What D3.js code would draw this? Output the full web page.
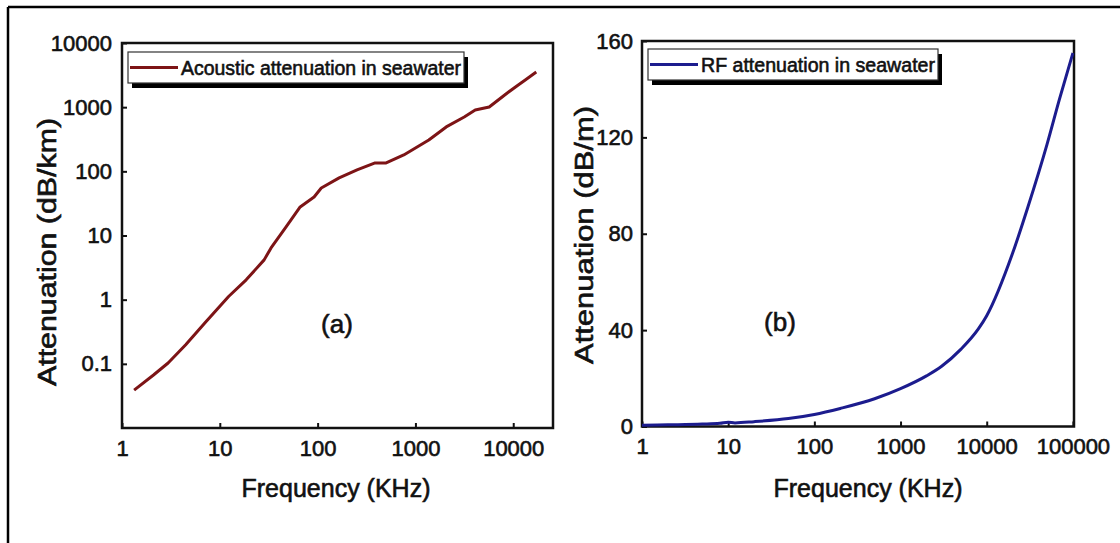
<!DOCTYPE html>
<html>
<head>
<meta charset="utf-8">
<script src="https://cdn.jsdelivr.net/npm/d3@7/dist/d3.min.js"></script>
<style>
  body { margin: 0; background: #fff; }
  text { font-family: "Liberation Sans", Arial, sans-serif; fill: #111; stroke: #111; stroke-width: 0.6px; }
</style>
</head>
<body>
<div id="chart"></div>
<script>
// panel (a) acoustic attenuation
var acousticFreq = [1.33, 2.1, 2.96, 4.48, 7.06, 12.3, 18.6, 28.4, 33.4, 47.6, 66.3, 92, 109, 166, 253, 387, 502, 760, 1370, 2065, 3155, 4085, 5680, 8690, 11250, 13270, 17200]
var acousticAtten = [0.039, 0.067, 0.103, 0.198, 0.436, 1.12, 2.04, 4.17, 6.4, 13.6, 27.9, 39.9, 55, 79, 105, 135, 135, 180, 308, 492, 703, 904, 1007, 1665, 2218, 2655, 3532]

// panel (b) RF attenuation
var rfFreq = [1, 2, 5, 8, 10, 12, 20, 50, 100, 200, 500, 1000, 2000, 3000, 5000, 8000, 10000, 20000, 30000, 50000, 70000, 100000]
var rfAtten = [0.5, 0.7, 1.0, 1.3, 1.8, 1.5, 2.0, 3.3, 5.0, 7.5, 11.5, 15.7, 21, 25, 32, 40.5, 46, 72, 91, 117, 136, 155]

var acousticXTicks = [1, 10, 100, 1000, 10000]
var acousticYTicks = [0.1, 1, 10, 100, 1000, 10000]
var rfXTicks = [1, 10, 100, 1000, 10000, 100000]
var rfYTicks = [0, 40, 80, 120, 160]

var W = 1120, H = 543

var svg = d3.select("#chart").append("svg")
  .attr("width", W)
  .attr("height", H)

// outer frame (top and left edges only show)
svg.append("line").attr("x1", 8).attr("x2", W).attr("y1", 7).attr("y2", 7)
  .attr("stroke", "#000").attr("stroke-width", 2.5)
svg.append("line").attr("x1", 8).attr("x2", 8).attr("y1", 7).attr("y2", H)
  .attr("stroke", "#000").attr("stroke-width", 2.5)

function panel(opt) {
  var x = opt.x, y = opt.y
  var g = svg.append("g")

  // x axis
  var ax = g.append("g")
    .attr("transform", "translate(0," + y.range()[0] + ")")
    .call(d3.axisBottom(x).tickValues(opt.xTicks).tickSize(-5).tickPadding(12)
      .tickFormat(d3.format("d")))
  // y axis
  var ay = g.append("g")
    .attr("transform", "translate(" + x.range()[0] + ",0)")
    .call(d3.axisLeft(y).tickValues(opt.yTicks).tickSize(-5).tickPadding(opt.yPad)
      .tickFormat(opt.yFormat))

  ;[ax, ay].forEach(function(a) {
    a.select(".domain").remove()
    a.selectAll(".tick line").attr("stroke", "#111").attr("stroke-width", 2)
    a.selectAll(".tick text").attr("font-size", 22).attr("fill", "#111")
      .attr("font-family", "Liberation Sans, Arial, sans-serif")
  })

  // plot frame
  g.append("rect")
    .attr("x", x.range()[0]).attr("y", y.range()[1])
    .attr("width", x.range()[1] - x.range()[0])
    .attr("height", y.range()[0] - y.range()[1])
    .attr("fill", "none").attr("stroke", "#111").attr("stroke-width", 2.5)

  // data line
  var line = d3.line()
    .x(function(d) { return x(d[0]) })
    .y(function(d) { return y(d[1]) })
    .curve(opt.curve)
  g.append("path")
    .datum(d3.zip(opt.freq, opt.atten))
    .attr("d", line)
    .attr("fill", "none")
    .attr("stroke", opt.color)
    .attr("stroke-width", 3)
    .attr("stroke-linejoin", "round")

  // legend with drop shadow
  var lg = opt.legend
  g.append("rect").attr("x", lg.x + 4).attr("y", lg.y + 5)
    .attr("width", lg.w).attr("height", lg.h).attr("fill", "#000")
  g.append("rect").attr("x", lg.x).attr("y", lg.y)
    .attr("width", lg.w).attr("height", lg.h)
    .attr("fill", "#fff").attr("stroke", "#333").attr("stroke-width", 1.2)
  g.append("line")
    .attr("x1", lg.x + 2).attr("x2", lg.x + 50)
    .attr("y1", lg.y + lg.h / 2).attr("y2", lg.y + lg.h / 2)
    .attr("stroke", opt.color).attr("stroke-width", 3)
  g.append("text")
    .attr("x", lg.x + 53).attr("y", lg.y + lg.h / 2 + 7)
    .attr("font-size", 20)
    .attr("textLength", lg.tw).attr("lengthAdjust", "spacingAndGlyphs")
    .text(opt.label)

  // axis titles
  g.append("text")
    .attr("x", opt.xTitle[0]).attr("y", opt.xTitle[1])
    .attr("text-anchor", "middle").attr("font-size", 25)
    .text("Frequency (KHz)")
  g.append("text")
    .attr("transform", "translate(" + opt.yTitle[0] + "," + opt.yTitle[1] + ") rotate(-90)")
    .attr("text-anchor", "middle").attr("font-size", 25)
    .attr("textLength", opt.yTitle[2]).attr("lengthAdjust", "spacingAndGlyphs")
    .text(opt.yTitleText)

  // panel tag
  g.append("text")
    .attr("x", opt.tag[0]).attr("y", opt.tag[1])
    .attr("text-anchor", "middle").attr("font-size", 26)
    .attr("font-family", "Open Sans, sans-serif")
    .text(opt.tagText)
}

panel({
  x: d3.scaleLog().domain([1, 25500]).range([122, 553]),
  y: d3.scaleLog().domain([0.01, 10000]).range([428, 43]),
  xTicks: acousticXTicks,
  yTicks: acousticYTicks,
  yPad: 10,
  yFormat: function(d) { return d < 1 ? "0.1" : d3.format("d")(d) },
  freq: acousticFreq,
  atten: acousticAtten,
  curve: d3.curveLinear,
  color: "#7d1416",
  legend: { x: 128, y: 52, w: 336, h: 31, tw: 280 },
  label: "Acoustic attenuation in seawater",
  xTitle: [336, 497],
  yTitle: [56, 252, 268],
  yTitleText: "Attenuation (dB/km)",
  tag: [337, 333],
  tagText: "(a)"
})

panel({
  x: d3.scaleLog().domain([1, 103000]).range([642, 1074]),
  y: d3.scaleLinear().domain([0, 160]).range([426.5, 41]),
  xTicks: rfXTicks,
  yTicks: rfYTicks,
  yPad: 9,
  yFormat: d3.format("d"),
  freq: rfFreq,
  atten: rfAtten,
  curve: d3.curveMonotoneX,
  color: "#1c1c8e",
  legend: { x: 648, y: 49, w: 290, h: 31, tw: 234 },
  label: "RF attenuation in seawater",
  xTitle: [868, 497],
  yTitle: [593, 235, 258],
  yTitleText: "Attenuation (dB/m)",
  tag: [780, 331],
  tagText: "(b)"
})
</script>
</body>
</html>
